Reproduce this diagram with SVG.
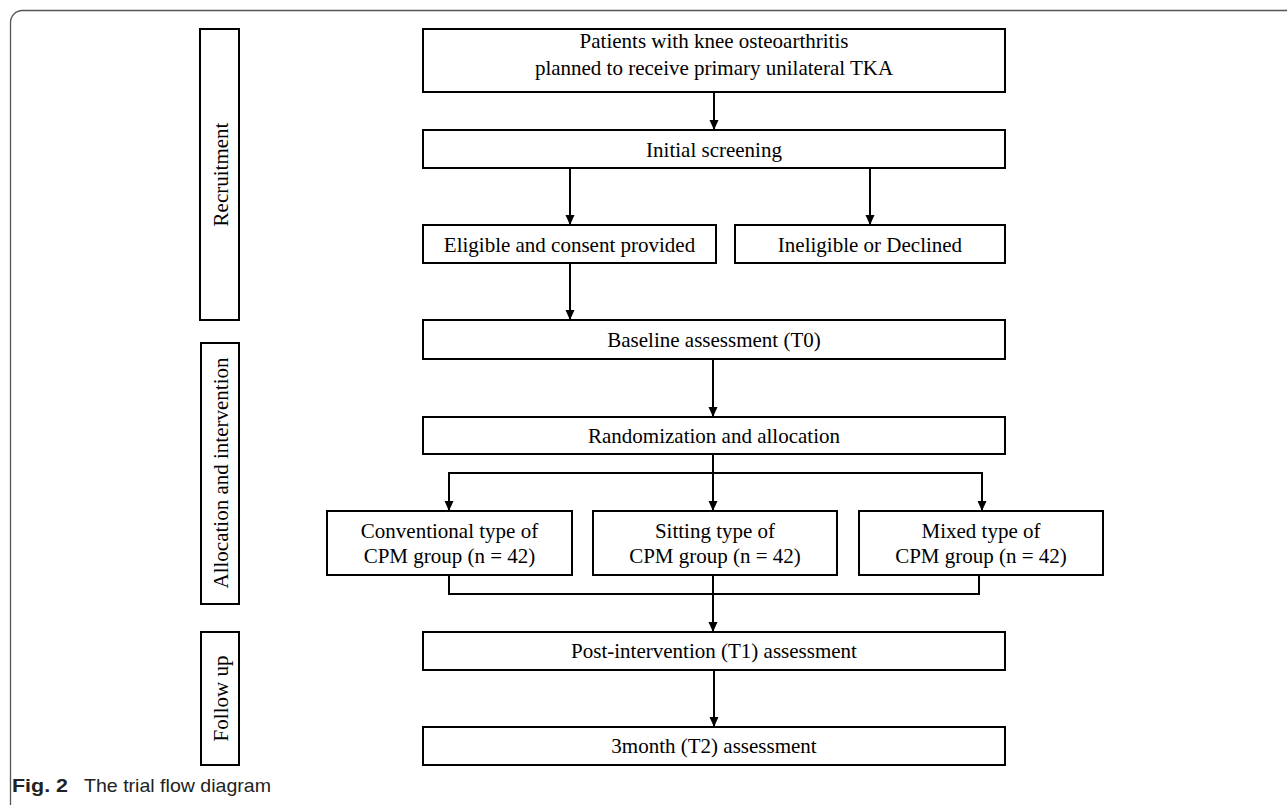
<svg xmlns="http://www.w3.org/2000/svg" width="1287" height="805" viewBox="0 0 1287 805">
<style>
.box{fill:#fff;stroke:#000;stroke-width:2}
.t{font-family:"Liberation Serif","Times New Roman",serif;font-size:21px;fill:#000;text-anchor:middle}
.c{fill:none;stroke:#000;stroke-width:2}
.cap{font-family:"Liberation Sans",Arial,sans-serif;font-size:19px;fill:#222}
</style>
<defs>
<marker id="ah" viewBox="0 0 10 10" refX="10" refY="5" markerWidth="10" markerHeight="10" markerUnits="userSpaceOnUse" orient="auto">
<path d="M0,0.5 L10,5 L0,9.5 Z" fill="#000"/>
</marker>
</defs>
<rect x="0" y="0" width="1287" height="805" fill="#fff"/>
<rect x="10.5" y="10.5" width="1300" height="820" rx="12" ry="12" fill="none" stroke="#555" stroke-width="1.3"/>

<g id="phase-recruitment">
<rect class="box" x="200" y="29" width="39" height="291"/>
<text class="t" transform="translate(228,174.5) rotate(-90)">Recruitment</text>
</g>
<g id="phase-allocation">
<rect class="box" x="201" y="343" width="38" height="261"/>
<text class="t" transform="translate(228,473) rotate(-90)">Allocation and intervention</text>
</g>
<g id="phase-followup">
<rect class="box" x="201" y="632" width="38" height="133"/>
<text class="t" transform="translate(228,698.5) rotate(-90)">Follow up</text>
</g>

<g id="patients">
<rect class="box" x="423" y="29" width="582" height="63"/>
<text class="t" x="714" y="48">Patients with knee osteoarthritis</text>
<text class="t" x="714" y="75">planned to receive primary unilateral TKA</text>
</g>
<g id="screening">
<rect class="box" x="423" y="130" width="582" height="38"/>
<text class="t" x="714" y="157">Initial screening</text>
</g>
<g id="eligible">
<rect class="box" x="423" y="225" width="293" height="38"/>
<text class="t" x="569.5" y="251.5">Eligible and consent provided</text>
</g>
<g id="ineligible">
<rect class="box" x="735" y="225" width="270" height="38"/>
<text class="t" x="870" y="251.5">Ineligible or Declined</text>
</g>
<g id="baseline">
<rect class="box" x="423" y="320" width="582" height="39"/>
<text class="t" x="714" y="347">Baseline assessment (T0)</text>
</g>
<g id="randomization">
<rect class="box" x="423" y="417" width="582" height="37"/>
<text class="t" x="714" y="443">Randomization and allocation</text>
</g>
<g id="conventional">
<rect class="box" x="327" y="511" width="245" height="64"/>
<text class="t" x="449.5" y="538">Conventional type of</text>
<text class="t" x="449.5" y="563">CPM group (n = 42)</text>
</g>
<g id="sitting">
<rect class="box" x="593" y="511" width="244" height="64"/>
<text class="t" x="715" y="538">Sitting type of</text>
<text class="t" x="715" y="563">CPM group (n = 42)</text>
</g>
<g id="mixed">
<rect class="box" x="859" y="511" width="244" height="64"/>
<text class="t" x="981" y="538">Mixed type of</text>
<text class="t" x="981" y="563">CPM group (n = 42)</text>
</g>
<g id="post">
<rect class="box" x="423" y="632" width="582" height="38"/>
<text class="t" x="714" y="658">Post-intervention (T1) assessment</text>
</g>
<g id="month3">
<rect class="box" x="423" y="727" width="582" height="38"/>
<text class="t" x="714" y="753">3month (T2) assessment</text>
</g>

<g id="connectors">
<line class="c" x1="714" y1="92" x2="714" y2="130" marker-end="url(#ah)"/>
<line class="c" x1="570" y1="168" x2="570" y2="225" marker-end="url(#ah)"/>
<line class="c" x1="870" y1="168" x2="870" y2="225" marker-end="url(#ah)"/>
<line class="c" x1="570" y1="263" x2="570" y2="320" marker-end="url(#ah)"/>
<line class="c" x1="713" y1="359" x2="713" y2="417" marker-end="url(#ah)"/>
<line class="c" x1="713" y1="454" x2="713" y2="511" marker-end="url(#ah)"/>
<polyline class="c" points="449,511 449,473 982,473 982,511"/>
<line class="c" x1="449" y1="473" x2="449" y2="511" marker-end="url(#ah)"/>
<line class="c" x1="982" y1="473" x2="982" y2="511" marker-end="url(#ah)"/>
<polyline class="c" points="449,575 449,594 979,594 979,575"/>
<line class="c" x1="713" y1="575" x2="713" y2="632" marker-end="url(#ah)"/>
<line class="c" x1="714" y1="670" x2="714" y2="727" marker-end="url(#ah)"/>
</g>

<g id="caption">
<text class="cap" x="12" y="792" font-weight="bold" textLength="56" lengthAdjust="spacingAndGlyphs">Fig. 2</text>
<text class="cap" x="84" y="792" textLength="187" lengthAdjust="spacingAndGlyphs">The trial flow diagram</text>
</g>
</svg>
